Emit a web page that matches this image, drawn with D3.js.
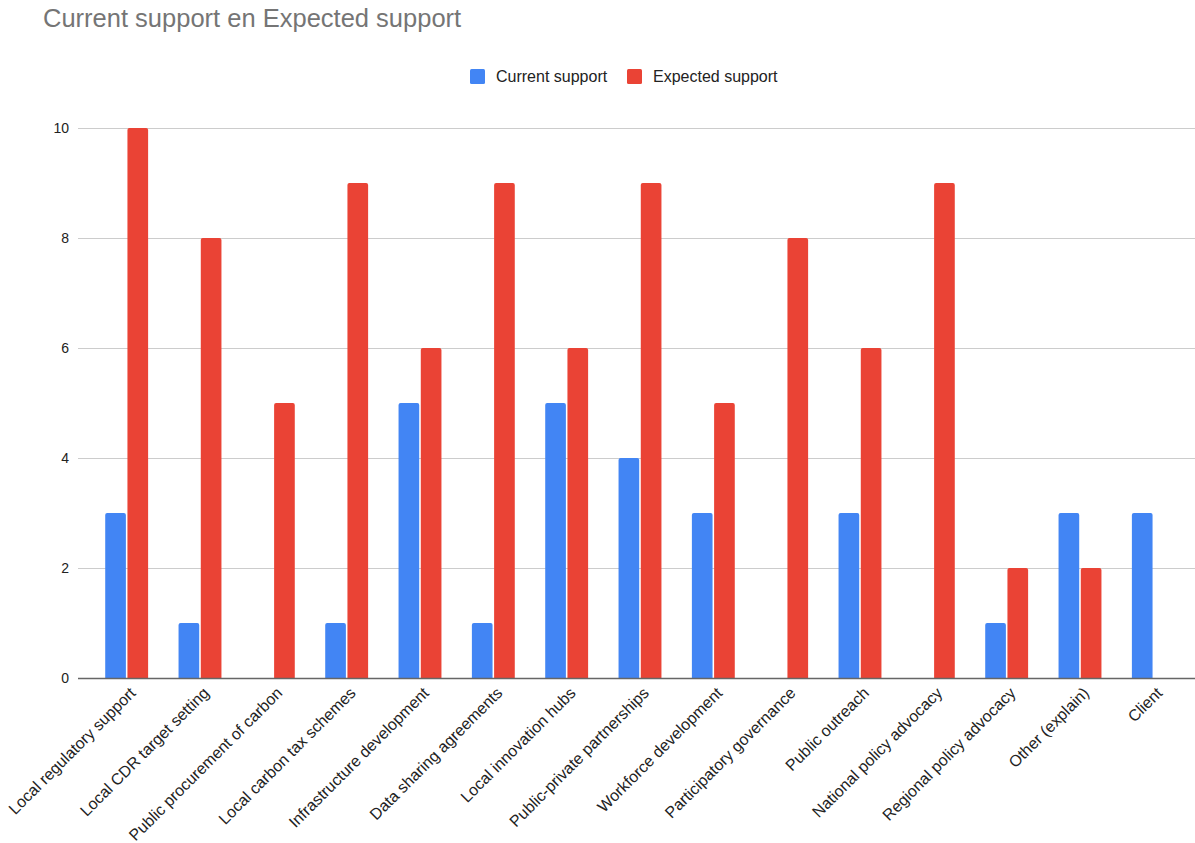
<!DOCTYPE html>
<html>
<head>
<meta charset="utf-8">
<script src="https://cdn.jsdelivr.net/npm/d3@7/dist/d3.min.js"></script>
<style>
  html, body { margin: 0; padding: 0; background: #fff; }
  svg { display: block; font-family: "Liberation Sans", Arial, sans-serif; }
</style>
</head>
<body>
<svg id="chart" width="1195" height="843"></svg>
<script>
const categories = [
  "Local regulatory support",
  "Local CDR target setting",
  "Public procurement of carbon",
  "Local carbon tax schemes",
  "Infrastructure development",
  "Data sharing agreements",
  "Local innovation hubs",
  "Public-private partnerships",
  "Workforce development",
  "Participatory governance",
  "Public outreach",
  "National policy advocacy",
  "Regional policy advocacy",
  "Other (explain)",
  "Client"
];
const currentSupport  = [3, 1, 0, 1, 5, 1, 5, 4, 3, 0, 3, 0, 1, 3, 3];
const expectedSupport = [10, 8, 5, 9, 6, 9, 6, 9, 5, 8, 6, 9, 2, 2, 0];
const seriesNames = ["Current support", "Expected support"];
const seriesColors = ["#4285f4", "#ea4335"];
const yTicks = [0, 2, 4, 6, 8, 10];
const chartTitle = "Current support en Expected support";

const svg = d3.select("#chart");
const plot = { left: 90, right: 1190, top: 128, bottom: 678, gridLeft: 78, gridRight: 1195 };

const x = d3.scaleBand().domain(categories).range([plot.left, plot.right]).paddingInner(0.415).paddingOuter(0.2075);
const xs = d3.scaleBand().domain(seriesNames).range([0, x.bandwidth()]).paddingInner(0.07);
const y = d3.scaleLinear().domain([0, 10]).range([plot.bottom, plot.top]);

// title
svg.append("text")
  .attr("x", 43).attr("y", 27)
  .attr("font-size", 25.5).attr("fill", "#757575")
  .text(chartTitle);

// gridlines
svg.append("g").selectAll("line")
  .data(yTicks.filter(t => t !== 0))
  .join("line")
  .attr("x1", plot.gridLeft).attr("x2", plot.gridRight)
  .attr("y1", d => Math.round(y(d)) + 0.5).attr("y2", d => Math.round(y(d)) + 0.5)
  .attr("stroke", "#cccccc").attr("stroke-width", 1);

// y tick labels
svg.append("g").selectAll("text")
  .data(yTicks)
  .join("text")
  .attr("x", 69).attr("y", d => y(d))
  .attr("dy", "0.35em")
  .attr("text-anchor", "end")
  .attr("font-size", 14).attr("fill", "#222")
  .text(d => d);

// bars
const rows = categories.map((c, i) => ({ cat: c, vals: [currentSupport[i], expectedSupport[i]] }));
function barPath(x0, w, yTop, yBase, r) {
  const h = yBase - yTop;
  if (h <= 0) return "";
  r = Math.min(r, h, w / 2);
  return `M${x0},${yBase}V${yTop + r}Q${x0},${yTop} ${x0 + r},${yTop}H${x0 + w - r}Q${x0 + w},${yTop} ${x0 + w},${yTop + r}V${yBase}Z`;
}
const groups = svg.append("g").selectAll("g")
  .data(rows)
  .join("g")
  .attr("transform", d => `translate(${x(d.cat)},0)`);
groups.selectAll("path")
  .data(d => d.vals.map((v, k) => ({ v, k })))
  .join("path")
  .attr("d", d => barPath(xs(seriesNames[d.k]), xs.bandwidth(), y(d.v), y(0), 2))
  .attr("fill", d => seriesColors[d.k]);

// baseline
svg.append("line")
  .attr("x1", plot.gridLeft).attr("x2", plot.gridRight)
  .attr("y1", y(0) + 0.5).attr("y2", y(0) + 0.5)
  .attr("stroke", "#666").attr("stroke-width", 1.5);

// x labels, rotated
svg.append("g").selectAll("text")
  .data(categories)
  .join("text")
  .attr("transform", d => `translate(${x(d) + x.bandwidth() / 2 + 10},${plot.bottom + 16}) rotate(-45)`)
  .attr("text-anchor", "end")
  .attr("font-size", 16).attr("fill", "#222")
  .text(d => d);

// legend
const legend = svg.append("g").attr("transform", "translate(470,76)");
const legendX = [0, 157];
seriesNames.forEach((name, k) => {
  const g = legend.append("g").attr("transform", `translate(${legendX[k]},0)`);
  g.append("rect").attr("x", 0).attr("y", -7).attr("width", 15).attr("height", 15).attr("rx", 1.5)
    .attr("fill", seriesColors[k]);
  g.append("text").attr("x", 26).attr("y", 0).attr("dy", "0.35em")
    .attr("font-size", 16).attr("fill", "#222").text(name);
});
</script>
</body>
</html>
